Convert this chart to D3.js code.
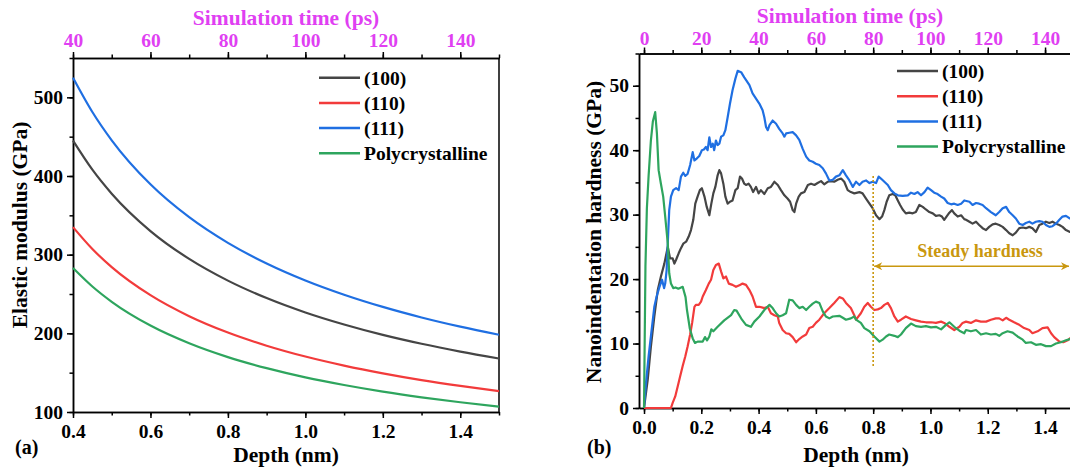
<!DOCTYPE html>
<html>
<head>
<meta charset="utf-8">
<script src="https://cdn.jsdelivr.net/npm/d3@7"></script>
<style>
body { margin: 0; background: #fff; }
svg, svg text, .tick text { font-family: 'Liberation Serif', 'DejaVu Serif', serif !important; font-weight: bold; }
.tick text { font-size: 19.5px; fill: #000; }
.tick line, .domain { stroke: #000; stroke-width: 1.5; }
</style>
</head>
<body>
<div id="chart"></div>
<script>
// Series
var series = ["(100)", "(110)", "(111)", "Polycrystalline"],
  colors = ["#454545", "#f23b3b", "#1f6fe2", "#2ea55e"];

// (a) elastic modulus (GPa) vs depth (nm)
var depthA = [0.4, 0.45, 0.5, 0.6, 0.7, 0.8, 0.9, 1.0, 1.1, 1.2, 1.3, 1.4, 1.5];
var mod100 = [445, 408, 377.5, 330, 294.6, 267, 244.8, 226.5, 211.2, 198, 186.7, 176.8, 168];
var mod110 = [335, 307.2, 284.2, 248.5, 221.8, 201, 184.3, 170.5, 159, 149.1, 140.5, 133.1, 126.5];
var mod111 = [525, 481.4, 445.4, 389.4, 347.6, 315, 288.8, 267.2, 249.1, 233.6, 220.2, 208.5, 198.2];
var modPoly = [283, 259.5, 240.1, 209.9, 187.4, 169.8, 155.7, 144, 134.3, 125.9, 118.7, 112.4, 106.8];

// (b) nanoindentation hardness, [depth nm, GPa]
var hard100 = [[0,0],[0.013,4.4],[0.024,9.5],[0.036,14.2],[0.048,18.3],[0.059,20.4],[0.071,22.4],[0.083,25.0],[0.091,23.2],[0.1,23.2],[0.106,22.4],[0.112,23.0],[0.121,24.0],[0.129,24.8],[0.137,25.5],[0.147,25.8],[0.156,26.6],[0.164,27.6],[0.172,29.2],[0.179,31.7],[0.187,32.8],[0.195,33.8],[0.202,34.1],[0.211,32.8],[0.219,31.2],[0.228,29.9],[0.235,31.7],[0.242,33.3],[0.249,34.3],[0.257,36.1],[0.263,36.9],[0.269,36.4],[0.277,34.8],[0.284,32.8],[0.292,31.7],[0.3,32.0],[0.309,32.2],[0.319,33.8],[0.327,34.1],[0.335,35.9],[0.342,35.6],[0.35,34.8],[0.356,34.6],[0.365,34.8],[0.373,34.3],[0.381,33.5],[0.391,34.3],[0.4,33.3],[0.408,33.8],[0.42,33.2],[0.432,34.1],[0.443,34.3],[0.455,35.1],[0.467,34.6],[0.478,33.8],[0.49,33.0],[0.501,32.5],[0.51,32.0],[0.519,30.7],[0.525,30.4],[0.531,31.7],[0.54,32.8],[0.548,33.3],[0.56,33.5],[0.572,34.6],[0.583,34.8],[0.595,34.6],[0.606,34.9],[0.618,35.2],[0.629,34.7],[0.641,35.1],[0.653,35.2],[0.664,35.1],[0.676,35.4],[0.688,35.6],[0.699,35.1],[0.711,33.8],[0.722,33.5],[0.734,33.3],[0.752,33.5],[0.763,33.3],[0.775,32.5],[0.787,31.7],[0.798,31.0],[0.81,29.9],[0.822,29.3],[0.831,29.7],[0.839,30.7],[0.847,32.0],[0.856,33.0],[0.868,33.2],[0.877,33.0],[0.886,32.2],[0.894,31.5],[0.903,30.8],[0.914,30.2],[0.926,30.3],[0.938,30.2],[0.949,30.4],[0.961,31.5],[0.973,31.2],[0.984,30.8],[0.996,30.4],[1.008,30.2],[1.019,29.8],[1.031,29.9],[1.04,29.7],[1.048,29.2],[1.056,29.7],[1.066,30.3],[1.075,30.7],[1.083,30.2],[1.095,29.7],[1.107,29.9],[1.118,29.3],[1.124,29.2],[1.136,28.9],[1.147,28.6],[1.159,28.9],[1.17,28.4],[1.182,27.9],[1.194,27.6],[1.205,28.1],[1.217,28.5],[1.228,28.6],[1.24,28.4],[1.252,28.1],[1.264,27.6],[1.275,27.1],[1.287,26.8],[1.298,27.2],[1.31,27.9],[1.322,28.0],[1.333,27.9],[1.345,28.1],[1.356,27.9],[1.368,27.3],[1.38,28.4],[1.391,28.6],[1.403,28.9],[1.415,28.7],[1.426,28.9],[1.438,28.6],[1.45,28.4],[1.461,28.1],[1.473,27.6],[1.487,27.3],[1.5,27.2]];
var hard110 = [[0,0],[0.094,0],[0.1,0.8],[0.109,1.8],[0.118,3.4],[0.126,4.9],[0.135,6.5],[0.144,8.0],[0.152,9.5],[0.161,11.4],[0.168,13.2],[0.176,15.7],[0.181,16.0],[0.191,16.0],[0.199,16.5],[0.205,17.3],[0.216,18.3],[0.226,19.3],[0.234,19.9],[0.242,21.4],[0.251,22.2],[0.261,22.4],[0.269,21.2],[0.277,20.1],[0.286,20.4],[0.296,19.3],[0.309,19.1],[0.321,18.8],[0.335,19.1],[0.344,19.3],[0.356,19.1],[0.368,18.3],[0.379,17.3],[0.391,15.7],[0.403,15.7],[0.42,15.5],[0.432,15.7],[0.443,14.7],[0.455,14.4],[0.467,14.2],[0.472,13.2],[0.484,12.1],[0.496,11.6],[0.507,11.5],[0.519,11.0],[0.531,10.2],[0.542,10.7],[0.554,11.1],[0.566,11.4],[0.577,12.4],[0.589,12.6],[0.6,13.2],[0.612,13.7],[0.629,14.7],[0.647,15.5],[0.664,16.3],[0.682,17.2],[0.694,17.0],[0.705,16.3],[0.722,15.5],[0.734,14.4],[0.74,13.7],[0.757,14.7],[0.769,15.7],[0.781,16.3],[0.792,15.7],[0.804,15.2],[0.816,15.3],[0.827,15.5],[0.839,16.0],[0.851,16.3],[0.862,15.5],[0.874,14.2],[0.886,13.4],[0.897,13.7],[0.914,14.2],[0.932,13.8],[0.949,13.6],[0.967,13.4],[0.984,13.3],[1.002,13.3],[1.019,13.2],[1.037,13.4],[1.048,13.2],[1.066,12.6],[1.083,12.1],[1.101,12.6],[1.112,13.2],[1.124,13.4],[1.141,13.2],[1.159,13.6],[1.176,13.4],[1.194,13.4],[1.211,13.7],[1.228,13.9],[1.24,13.9],[1.252,13.6],[1.264,14.0],[1.275,13.7],[1.292,13.3],[1.31,12.9],[1.327,12.4],[1.345,12.1],[1.356,11.6],[1.374,11.9],[1.391,12.4],[1.409,12.5],[1.421,11.6],[1.432,11.0],[1.45,10.3],[1.464,10.2],[1.479,10.5],[1.487,10.8],[1.5,11.0]];
var hard111 = [[0,0],[0.007,3.9],[0.016,8.0],[0.024,11.1],[0.036,15.7],[0.044,17.3],[0.054,18.8],[0.063,19.9],[0.07,18.6],[0.074,19.3],[0.079,21.4],[0.084,26.6],[0.088,30.7],[0.094,32.8],[0.102,33.8],[0.112,34.1],[0.121,33.8],[0.129,35.9],[0.137,36.5],[0.144,36.0],[0.152,36.3],[0.161,37.7],[0.17,39.7],[0.176,38.4],[0.184,38.7],[0.193,39.1],[0.202,40.0],[0.209,40.1],[0.216,40.5],[0.222,40.0],[0.228,42.0],[0.234,40.5],[0.24,41.0],[0.245,40.0],[0.251,41.5],[0.257,40.8],[0.263,41.0],[0.269,42.1],[0.277,42.3],[0.284,43.1],[0.292,45.1],[0.3,47.2],[0.309,49.3],[0.319,51.1],[0.327,52.3],[0.339,52.1],[0.35,51.3],[0.368,50.1],[0.379,48.8],[0.391,48.0],[0.403,47.2],[0.414,46.2],[0.42,45.1],[0.426,43.6],[0.432,43.1],[0.438,43.9],[0.449,44.6],[0.461,44.1],[0.472,43.3],[0.484,42.6],[0.49,42.1],[0.496,42.6],[0.507,42.7],[0.519,42.8],[0.531,42.3],[0.542,41.6],[0.554,40.2],[0.566,39.0],[0.577,38.4],[0.589,38.2],[0.6,37.9],[0.612,37.7],[0.624,37.2],[0.635,36.4],[0.647,35.3],[0.659,35.4],[0.67,35.9],[0.682,36.1],[0.694,36.9],[0.705,36.1],[0.717,35.3],[0.729,34.3],[0.74,35.1],[0.752,34.6],[0.763,35.1],[0.775,35.3],[0.787,34.9],[0.798,35.1],[0.81,34.9],[0.819,35.9],[0.827,35.6],[0.839,35.1],[0.851,34.6],[0.862,33.8],[0.874,33.3],[0.886,33.0],[0.903,32.9],[0.921,33.0],[0.932,33.4],[0.944,33.2],[0.955,33.5],[0.967,33.0],[0.979,33.5],[0.99,34.2],[1.002,33.8],[1.013,33.4],[1.025,33.2],[1.037,32.8],[1.048,32.5],[1.06,31.8],[1.072,31.6],[1.083,31.7],[1.095,31.5],[1.107,31.7],[1.118,32.2],[1.136,32.0],[1.147,31.5],[1.159,31.8],[1.17,31.7],[1.182,31.5],[1.194,31.0],[1.211,30.4],[1.228,29.9],[1.24,30.4],[1.252,31.0],[1.264,31.2],[1.275,30.4],[1.287,29.9],[1.298,29.4],[1.31,28.6],[1.322,28.4],[1.333,28.7],[1.345,28.9],[1.356,28.6],[1.368,28.9],[1.38,29.0],[1.391,28.9],[1.403,28.4],[1.415,28.1],[1.426,28.2],[1.438,28.6],[1.45,29.2],[1.461,29.7],[1.473,29.8],[1.487,29.4],[1.5,29.3]];
var hardPoly = [[0,0],[0.005,22],[0.01,31],[0.016,36],[0.024,41.5],[0.031,44.5],[0.039,45.9],[0.045,42.6],[0.051,36.9],[0.059,34.8],[0.067,32.8],[0.074,29.7],[0.083,25.5],[0.088,20.9],[0.094,19.3],[0.102,18.6],[0.11,18.7],[0.12,18.5],[0.135,18.8],[0.145,17.2],[0.15,15.2],[0.16,12.3],[0.17,10.8],[0.178,10.1],[0.187,10.3],[0.205,10.3],[0.213,11.0],[0.22,10.5],[0.228,11.1],[0.235,12.2],[0.242,11.9],[0.257,12.6],[0.28,13.6],[0.304,14.4],[0.315,15.2],[0.323,15.1],[0.342,13.7],[0.356,12.9],[0.373,12.6],[0.385,13.4],[0.403,14.2],[0.42,15.2],[0.438,16.0],[0.449,15.5],[0.461,14.7],[0.472,14.2],[0.484,14.4],[0.496,14.7],[0.507,16.8],[0.519,16.7],[0.531,16.0],[0.542,15.5],[0.554,15.7],[0.566,15.2],[0.577,15.7],[0.589,16.2],[0.6,16.5],[0.612,16.3],[0.624,15.0],[0.635,14.2],[0.647,13.9],[0.659,14.2],[0.682,14.3],[0.694,14.0],[0.705,13.7],[0.722,13.9],[0.734,14.2],[0.74,13.7],[0.757,13.2],[0.769,12.4],[0.787,11.9],[0.804,11.1],[0.822,10.3],[0.833,10.6],[0.845,11.1],[0.856,11.4],[0.874,11.2],[0.886,11.0],[0.897,11.4],[0.914,12.4],[0.932,13.1],[0.949,12.7],[0.967,12.6],[0.984,12.7],[1.002,12.5],[1.019,12.6],[1.037,12.2],[1.054,12.9],[1.066,13.3],[1.083,12.6],[1.101,12.0],[1.118,11.6],[1.124,12.1],[1.141,11.9],[1.159,12.1],[1.176,11.4],[1.194,11.6],[1.211,11.4],[1.228,11.5],[1.24,11.2],[1.252,11.6],[1.269,11.9],[1.287,11.7],[1.304,11.1],[1.322,10.6],[1.333,10.1],[1.351,10.2],[1.368,9.8],[1.386,9.9],[1.403,9.6],[1.421,9.6],[1.438,10.0],[1.455,10.2],[1.473,10.5],[1.487,10.7],[1.5,10.8]];

// Ticks
var depthTicksA = [0.4, 0.6, 0.8, 1.0, 1.2, 1.4],
  depthTicksB = [0.0, 0.2, 0.4, 0.6, 0.8, 1.0, 1.2, 1.4],
  timeTicksA = [40, 60, 80, 100, 120, 140],
  timeTicksB = [0, 20, 40, 60, 80, 100, 120, 140],
  modTicks = [100, 200, 300, 400, 500],
  hardTicks = [0, 10, 20, 30, 40, 50];

var magenta = "#e03ff2",
  gold = "#c9970f",
  serif = "'Liberation Serif', 'DejaVu Serif', serif";

var svg = d3.select("#chart").append("svg")
  .attr("width", 1070)
  .attr("height", 468)
  .attr("font-family", serif)
  .attr("font-weight", "bold");

// scales, panel (a)
var xA = d3.scaleLinear().domain([0.4, 1.5]).range([73, 499]),
  tA = d3.scaleLinear().domain([40, 150]).range([73, 499]),
  yA = d3.scaleLinear().domain([100, 550]).range([412, 58]);

// scales, panel (b)
var xB = d3.scaleLinear().domain([-0.0175, 1.5]).range([639, 1073.7]),
  tB = d3.scaleLinear().domain([-1.75, 150]).range([639, 1073.7]),
  yB = d3.scaleLinear().domain([0, 55]).range([408, 53.5]);

function minorOf(scale, step) {
  var d = scale.domain(), out = [];
  for (var v = Math.ceil(d[0] / step - 1e-9) * step; v <= d[1] + 1e-9; v += step) out.push(+v.toFixed(4));
  return out;
}

function fixFont(sel) {
  sel.attr("font-family", serif).attr("font-size", 19.5).attr("font-weight", "bold");
  return sel;
}

function drawAxes(x, t, y, xMajor, xStep, tMajor, tStep, yMajor, yStep, tPad) {
  var r = x.range(), yr = y.range();
  // bottom
  svg.append("g").attr("transform", "translate(0," + yr[0] + ")")
    .call(d3.axisBottom(x).tickValues(minorOf(x, xStep)).tickSize(3.5).tickFormat("").tickSizeOuter(0));
  fixFont(svg.append("g").attr("transform", "translate(0," + yr[0] + ")")
    .call(d3.axisBottom(x).tickValues(xMajor).tickSize(6).tickPadding(6.2).tickFormat(d3.format(".1f")).tickSizeOuter(0)));
  // top (time)
  svg.append("g").attr("transform", "translate(0," + yr[1] + ")")
    .call(d3.axisTop(t).tickValues(minorOf(t, tStep)).tickSize(3.5).tickFormat("").tickSizeOuter(0));
  fixFont(svg.append("g").attr("transform", "translate(0," + yr[1] + ")")
    .call(d3.axisTop(t).tickValues(tMajor).tickSize(6).tickPadding(tPad).tickSizeOuter(0)))
    .selectAll("text").style("fill", magenta);
  // left
  svg.append("g").attr("transform", "translate(" + r[0] + ",0)")
    .call(d3.axisLeft(y).tickValues(minorOf(y, yStep)).tickSize(3.5).tickFormat("").tickSizeOuter(0));
  fixFont(svg.append("g").attr("transform", "translate(" + r[0] + ",0)")
    .call(d3.axisLeft(y).tickValues(yMajor).tickSize(6).tickPadding(4).tickSizeOuter(0)));
}

drawAxes(xA, tA, yA, depthTicksA, 0.1, timeTicksA, 10, modTicks, 50, 5);
drawAxes(xB, tB, yB, depthTicksB, 0.1, timeTicksB, 10, hardTicks, 5, 2.5);

// right frame of panel (a)
svg.append("line")
  .attr("x1", xA(1.5)).attr("x2", xA(1.5))
  .attr("y1", yA(100)).attr("y2", yA(550))
  .attr("stroke", "#000").attr("stroke-width", 1.5);

// curves (a)
var lineA = d3.line()
  .x(function(d, i) { return xA(depthA[i]); })
  .y(function(d) { return yA(d); })
  .curve(d3.curveMonotoneX);

[mod100, mod110, mod111, modPoly].forEach(function(s, i) {
  svg.append("path").datum(s)
    .attr("d", lineA)
    .attr("fill", "none")
    .attr("stroke", colors[i])
    .attr("stroke-width", 2.2);
});

// curves (b)
svg.append("clipPath").attr("id", "clipB")
  .append("rect").attr("x", 639).attr("y", 50).attr("width", 440).attr("height", 362);

var lineB = d3.line()
  .x(function(d) { return xB(d[0]); })
  .y(function(d) { return yB(d[1]); })
  .curve(d3.curveLinear);

var gB = svg.append("g").attr("clip-path", "url(#clipB)");
[hard100, hard110, hard111, hardPoly].forEach(function(s, i) {
  gB.append("path").datum(s)
    .attr("d", lineB)
    .attr("fill", "none")
    .attr("stroke", colors[i])
    .attr("stroke-width", 2.2)
    .attr("stroke-linejoin", "round");
});

// steady hardness annotation
svg.append("defs").append("marker")
  .attr("id", "arr")
  .attr("viewBox", "0 0 10 10")
  .attr("refX", 10).attr("refY", 5)
  .attr("markerWidth", 10).attr("markerHeight", 8)
  .attr("markerUnits", "userSpaceOnUse")
  .attr("orient", "auto-start-reverse")
  .append("path").attr("d", "M0,0 L10,5 L0,10 L3,5 Z").attr("fill", gold);

svg.append("line")
  .attr("x1", xB(0.8)).attr("x2", xB(0.8))
  .attr("y1", yB(6.5)).attr("y2", yB(36))
  .attr("stroke", gold).attr("stroke-width", 1.6)
  .attr("stroke-dasharray", "2,2");

svg.append("line")
  .attr("x1", xB(0.8) + 1).attr("x2", 1069)
  .attr("y1", yB(22)).attr("y2", yB(22))
  .attr("stroke", gold).attr("stroke-width", 1.6)
  .attr("marker-start", "url(#arr)")
  .attr("marker-end", "url(#arr)");

svg.append("text")
  .attr("x", xB(1.173)).attr("y", yB(23.4))
  .attr("text-anchor", "middle")
  .attr("font-size", 18)
  .attr("fill", gold)
  .text("Steady hardness");

// legends
function legend(x0, y0) {
  series.forEach(function(s, i) {
    var yy = y0 + i * 25.2;
    svg.append("line")
      .attr("x1", x0).attr("x2", x0 + 41)
      .attr("y1", yy).attr("y2", yy)
      .attr("stroke", colors[i]).attr("stroke-width", 2.5);
    svg.append("text")
      .attr("x", x0 + 45).attr("y", yy)
      .attr("dy", "0.35em")
      .attr("font-size", 19.5)
      .text(s);
  });
}
legend(319, 77.7);
legend(897, 71);

// titles
function title(x, y, txt, rot, col) {
  svg.append("text")
    .attr("transform", "translate(" + x + "," + y + ")" + (rot ? "rotate(-90)" : ""))
    .attr("text-anchor", "middle")
    .attr("font-size", 21.5)
    .attr("fill", col || "#000")
    .text(txt);
}
title(286, 462, "Depth (nm)");
title(856, 462, "Depth (nm)");
title(286, 24.5, "Simulation time (ps)", false, magenta);
title(850, 22.5, "Simulation time (ps)", false, magenta);
title(27, 225, "Elastic modulus (GPa)", true);
title(601, 232, "Nanoindentation hardness (GPa)", true);

svg.append("text").attr("x", 15).attr("y", 454).attr("font-size", 20).text("(a)");
svg.append("text").attr("x", 587).attr("y", 454).attr("font-size", 20).text("(b)");
</script>
</body>
</html>
